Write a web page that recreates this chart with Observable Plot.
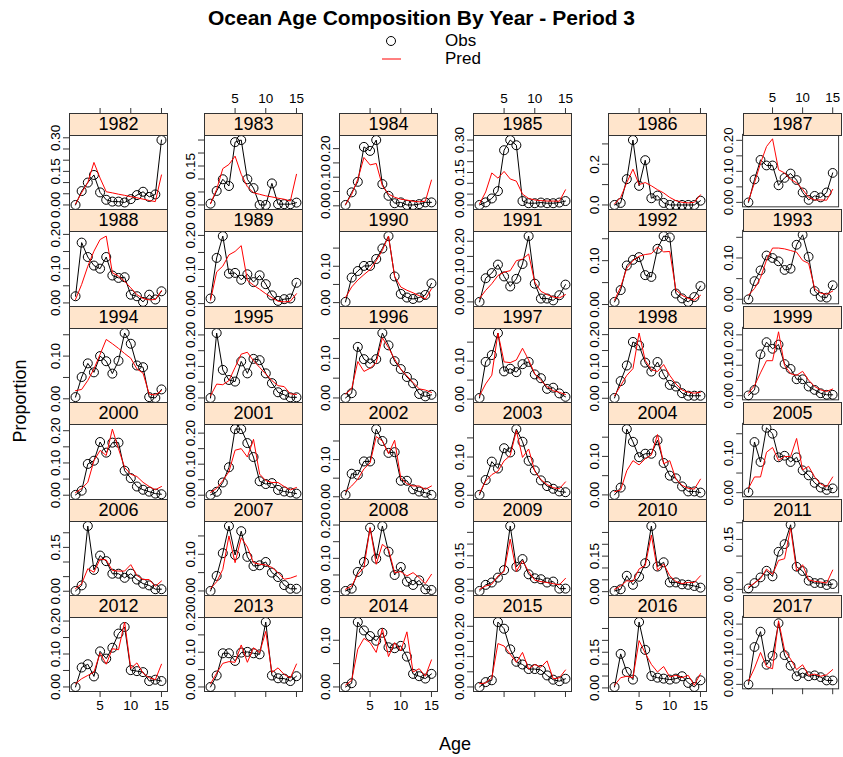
<!DOCTYPE html>
<html><head><meta charset="utf-8">
<script src="https://cdn.jsdelivr.net/npm/d3@7"></script>
<script src="https://cdn.jsdelivr.net/npm/@observablehq/plot@0.6"></script>
<style>
body{margin:0;background:#fff;font-family:"Liberation Sans",Arial,sans-serif;}
#chart{position:relative;width:843px;height:757px;overflow:hidden;background:#fff;}
.strip{position:absolute;box-sizing:border-box;border:1px solid #333;background:#FFE5CC;text-align:center;font-size:18px;line-height:20px;color:#000;}
.panel{position:absolute;}
.panel svg{overflow:visible;background:transparent;}
.txt{position:absolute;color:#000;white-space:nowrap;}
</style></head><body><div id="chart"></div>
<script>
const years = [1982,1983,1984,1985,1986,1987,1988,1989,1990,1991,1992,1993,1994,1995,1996,1997,1998,1999,2000,2001,2002,2003,2004,2005,2006,2007,2008,2009,2010,2011,2012,2013,2014,2015,2016,2017];
const ages = [1,2,3,4,5,6,7,8,9,10,11,12,13,14,15];
const xTicks = [5,10,15];

const obs = [
 [0.00,0.062,0.10,0.134,0.056,0.023,0.015,0.015,0.011,0.026,0.044,0.059,0.036,0.047,0.29],
 [0.005,0.054,0.099,0.073,0.242,0.25,0.099,0.065,0.0,0.0,0.083,0.003,0.003,0.003,0.009],
 [0.003,0.047,0.084,0.206,0.192,0.23,0.076,0.035,0.009,0.012,0.003,0.003,0.006,0.012,0.012],
 [0.0,0.012,0.03,0.064,0.253,0.30,0.276,0.018,0.008,0.008,0.011,0.008,0.008,0.011,0.018],
 [0.0,0.01,0.127,0.319,0.094,0.22,0.033,0.046,0.01,0.0,0.0,0.0,0.0,0.0,0.021],
 [0.0,0.074,0.137,0.119,0.119,0.055,0.079,0.093,0.072,0.032,0.008,0.021,0.016,0.032,0.095],
 [0.0195,0.176,0.134,0.109,0.1,0.134,0.08,0.073,0.075,0.024,0.0195,0.003,0.024,0.01,0.034],
 [0.015,0.134,0.198,0.088,0.09,0.07,0.086,0.063,0.083,0.057,0.024,0.008,0.013,0.015,0.061],
 [0.002,0.069,0.087,0.101,0.101,0.12,0.149,0.183,0.072,0.024,0.014,0.01,0.014,0.021,0.053],
 [0.0,0.078,0.095,0.123,0.084,0.051,0.076,0.125,0.217,0.06,0.011,0.011,0.005,0.022,0.057],
 [0.006,0.033,0.089,0.102,0.108,0.067,0.063,0.127,0.156,0.153,0.025,0.014,0.006,0.017,0.042],
 [0.0,0.044,0.07,0.106,0.1,0.092,0.071,0.074,0.132,0.156,0.103,0.02,0.006,0.004,0.034],
 [0.004,0.051,0.083,0.062,0.10,0.088,0.059,0.089,0.154,0.129,0.078,0.074,0.004,0.002,0.022],
 [0.0,0.206,0.089,0.057,0.052,0.116,0.078,0.124,0.12,0.078,0.047,0.018,0.01,0.002,0.002],
 [0.0,0.012,0.129,0.098,0.087,0.098,0.164,0.133,0.093,0.073,0.053,0.037,0.01,0.004,0.008],
 [0.003,0.098,0.116,0.174,0.073,0.08,0.071,0.092,0.098,0.065,0.055,0.027,0.03,0.015,0.006],
 [0.001,0.054,0.103,0.177,0.166,0.112,0.084,0.114,0.075,0.042,0.037,0.016,0.008,0.008,0.008],
 [0.001,0.019,0.136,0.176,0.154,0.168,0.104,0.088,0.054,0.054,0.03,0.019,0.008,0.003,0.003],
 [0.001,0.014,0.097,0.107,0.165,0.132,0.163,0.163,0.076,0.053,0.027,0.017,0.011,0.005,0.003],
 [0.001,0.011,0.041,0.09,0.213,0.213,0.168,0.123,0.045,0.036,0.039,0.017,0.012,0.009,0.005],
 [0.005,0.062,0.059,0.095,0.095,0.182,0.15,0.118,0.12,0.043,0.043,0.02,0.014,0.011,0.005],
 [0.001,0.04,0.088,0.07,0.123,0.112,0.173,0.14,0.09,0.065,0.039,0.024,0.017,0.01,0.008],
 [0.0,0.019,0.171,0.138,0.098,0.107,0.107,0.142,0.083,0.05,0.043,0.022,0.009,0.009,0.006],
 [0.001,0.129,0.078,0.165,0.15,0.09,0.094,0.078,0.09,0.057,0.044,0.025,0.013,0.007,0.011],
 [0.001,0.02,0.223,0.073,0.122,0.103,0.06,0.06,0.046,0.06,0.04,0.026,0.02,0.007,0.007],
 [0.0,0.041,0.103,0.177,0.098,0.163,0.093,0.068,0.07,0.079,0.05,0.038,0.016,0.006,0.006],
 [0.002,0.009,0.059,0.089,0.192,0.099,0.197,0.12,0.05,0.074,0.03,0.02,0.034,0.007,0.005],
 [0.0,0.026,0.036,0.057,0.089,0.277,0.103,0.136,0.071,0.054,0.05,0.036,0.04,0.01,0.01],
 [0.003,0.01,0.067,0.029,0.063,0.12,0.277,0.106,0.124,0.039,0.039,0.031,0.029,0.024,0.017],
 [0.003,0.019,0.036,0.056,0.039,0.113,0.136,0.194,0.068,0.055,0.026,0.019,0.019,0.013,0.016],
 [0.0,0.059,0.069,0.032,0.108,0.086,0.119,0.162,0.182,0.051,0.048,0.045,0.018,0.022,0.018],
 [0.0,0.033,0.097,0.097,0.075,0.099,0.101,0.097,0.094,0.187,0.033,0.025,0.024,0.017,0.031],
 [0.0,0.008,0.139,0.121,0.109,0.099,0.116,0.085,0.083,0.088,0.065,0.028,0.023,0.018,0.028],
 [0.0,0.016,0.022,0.214,0.192,0.124,0.083,0.074,0.059,0.059,0.056,0.038,0.024,0.019,0.027],
 [0.004,0.143,0.067,0.035,0.277,0.16,0.05,0.043,0.039,0.035,0.039,0.049,0.021,0.004,0.032],
 [0.0,0.124,0.175,0.065,0.095,0.203,0.097,0.062,0.027,0.038,0.027,0.03,0.024,0.013,0.013]
];

const pred = [
 [0.005,0.055,0.10,0.19,0.12,0.059,0.054,0.048,0.043,0.037,0.032,0.026,0.02,0.015,0.134],
 [0.005,0.06,0.14,0.156,0.188,0.118,0.07,0.047,0.041,0.035,0.031,0.026,0.022,0.015,0.118],
 [0.005,0.04,0.093,0.169,0.143,0.148,0.07,0.041,0.03,0.023,0.02,0.016,0.014,0.016,0.09],
 [0.005,0.06,0.148,0.124,0.155,0.12,0.11,0.05,0.03,0.023,0.02,0.018,0.018,0.017,0.07],
 [0.005,0.037,0.11,0.176,0.10,0.11,0.094,0.075,0.059,0.037,0.021,0.013,0.01,0.013,0.05],
 [0.005,0.063,0.126,0.18,0.205,0.105,0.095,0.074,0.063,0.042,0.016,0.008,0.008,0.007,0.042],
 [0.01,0.054,0.107,0.151,0.185,0.195,0.088,0.078,0.063,0.044,0.024,0.013,0.009,0.01,0.036],
 [0.01,0.093,0.11,0.143,0.153,0.17,0.068,0.054,0.042,0.029,0.017,0.007,0.005,0.007,0.029],
 [0.014,0.043,0.062,0.077,0.091,0.115,0.144,0.183,0.072,0.043,0.034,0.027,0.019,0.01,0.038],
 [0.011,0.038,0.06,0.087,0.098,0.103,0.136,0.141,0.158,0.065,0.035,0.024,0.016,0.013,0.024],
 [0.01,0.04,0.083,0.10,0.11,0.114,0.116,0.131,0.12,0.121,0.033,0.021,0.014,0.01,0.021],
 [0.01,0.026,0.052,0.095,0.124,0.124,0.122,0.118,0.114,0.094,0.087,0.026,0.015,0.012,0.02],
 [0.019,0.022,0.043,0.07,0.104,0.139,0.129,0.118,0.106,0.095,0.07,0.06,0.011,0.009,0.019],
 [0.007,0.044,0.042,0.055,0.097,0.139,0.145,0.118,0.097,0.076,0.055,0.039,0.036,0.013,0.011],
 [0.01,0.023,0.092,0.067,0.075,0.089,0.152,0.127,0.098,0.073,0.056,0.039,0.023,0.02,0.014],
 [0.009,0.04,0.063,0.174,0.098,0.096,0.103,0.134,0.103,0.067,0.049,0.033,0.022,0.018,0.012],
 [0.008,0.04,0.072,0.093,0.205,0.119,0.09,0.084,0.106,0.072,0.045,0.026,0.019,0.016,0.019],
 [0.008,0.033,0.075,0.115,0.115,0.21,0.099,0.072,0.067,0.08,0.051,0.03,0.019,0.014,0.022],
 [0.008,0.021,0.04,0.107,0.139,0.123,0.205,0.144,0.086,0.065,0.058,0.04,0.027,0.017,0.027],
 [0.009,0.022,0.047,0.076,0.145,0.15,0.123,0.18,0.068,0.047,0.041,0.041,0.028,0.017,0.025],
 [0.014,0.029,0.047,0.075,0.091,0.162,0.15,0.116,0.152,0.05,0.035,0.029,0.029,0.02,0.029],
 [0.006,0.037,0.054,0.063,0.09,0.104,0.169,0.099,0.121,0.063,0.041,0.028,0.02,0.017,0.035],
 [0.008,0.013,0.063,0.089,0.078,0.094,0.104,0.157,0.081,0.089,0.041,0.025,0.017,0.015,0.041],
 [0.011,0.04,0.04,0.103,0.115,0.082,0.092,0.092,0.138,0.058,0.067,0.04,0.022,0.015,0.04],
 [0.009,0.026,0.077,0.065,0.11,0.107,0.071,0.069,0.069,0.091,0.054,0.04,0.04,0.017,0.035],
 [0.007,0.025,0.059,0.15,0.077,0.145,0.12,0.077,0.073,0.071,0.064,0.05,0.032,0.035,0.041],
 [0.007,0.017,0.052,0.072,0.192,0.082,0.142,0.127,0.057,0.06,0.047,0.057,0.042,0.024,0.052],
 [0.007,0.021,0.029,0.064,0.083,0.221,0.083,0.129,0.083,0.046,0.04,0.036,0.031,0.026,0.054],
 [0.01,0.024,0.046,0.043,0.096,0.11,0.239,0.09,0.117,0.067,0.043,0.034,0.039,0.039,0.067],
 [0.007,0.019,0.032,0.061,0.045,0.087,0.092,0.184,0.055,0.074,0.029,0.024,0.022,0.019,0.058],
 [0.01,0.025,0.035,0.045,0.103,0.069,0.116,0.113,0.197,0.056,0.073,0.042,0.028,0.022,0.069],
 [0.009,0.04,0.068,0.073,0.071,0.121,0.071,0.113,0.099,0.16,0.042,0.055,0.036,0.026,0.066],
 [0.004,0.014,0.081,0.104,0.095,0.074,0.125,0.065,0.095,0.077,0.118,0.032,0.039,0.023,0.058],
 [0.011,0.013,0.03,0.143,0.135,0.108,0.081,0.114,0.059,0.074,0.065,0.086,0.027,0.03,0.056],
 [0.011,0.043,0.049,0.043,0.199,0.146,0.099,0.067,0.09,0.046,0.053,0.043,0.053,0.011,0.06],
 [0.011,0.054,0.106,0.059,0.052,0.211,0.114,0.084,0.049,0.065,0.03,0.034,0.027,0.032,0.049]
];

// y tick spacing and labelled-tick spacing for each panel
const yTickStep = [0.05,0.05,0.05,0.05,0.1,0.05, 0.05,0.05,0.05,0.05,0.05,0.05, 0.05,0.05,0.05,0.05,0.05,0.05, 0.05,0.05,0.05,0.05,0.05,0.05, 0.05,0.05,0.05,0.05,0.05,0.05, 0.05,0.05,0.05,0.05,0.05,0.05];
const yLabelStep = [0.15,0.15,0.10,0.15,0.2,0.10, 0.1,0.1,0.1,0.1,0.1,0.1, 0.1,0.1,0.1,0.1,0.1,0.1, 0.1,0.1,0.1,0.1,0.1,0.1, 0.15,0.1,0.1,0.15,0.15,0.15, 0.1,0.1,0.1,0.1,0.15,0.1];

const chart = document.getElementById("chart");
const NC = 6, NR = 6;
const col0 = 69, colPitch = 134.8, panelW = 98;
const row0 = 113, rowPitch = 96.4, stripH = 22;
const ML = 45, MR = 5, MTx = 35, MB = 30;
const pad = 0.07;

function addText(txt, style) {
  const d = document.createElement("div");
  d.className = "txt";
  d.textContent = txt;
  Object.assign(d.style, style);
  chart.appendChild(d);
  return d;
}

years.forEach((yr, i) => {
  const c = i % NC, r = Math.floor(i / NC);
  const left = Math.round(col0 + c * colPitch);
  const top = Math.round(row0 + r * rowPitch);
  const bottom = Math.round(row0 + (r + 1) * rowPitch);
  const plotH = bottom - top - stripH;
  const o = ages.map((a, k) => ({age: a, v: obs[i][k]}));
  const p = ages.map((a, k) => ({age: a, v: pred[i][k]}));
  const all = obs[i].concat(pred[i]);
  const mn = d3.min(all), mx = d3.max(all), span = mx - mn;
  const lo = mn - pad * span, hi = mx + pad * span;
  const step = yTickStep[i], lstep = yLabelStep[i];
  const yt = d3.range(0, Math.floor(hi / step + 1e-9) + 1).map(k => +(k * step).toFixed(4)).filter(v => v >= lo && v <= hi);
  const dec = step >= 0.1 ? 1 : 2;
  const fmt = v => { const q = v / lstep; return Math.abs(q - Math.round(q)) < 1e-6 ? v.toFixed(dec) : ""; };
  const marks = [
    Plot.frame({stroke: "#333", strokeWidth: 1}),
    Plot.axisY(yt, {anchor: "left", tickSize: 6, tickPadding: 4, tickRotate: -90, tickFormat: fmt, fontSize: 13.5, stroke: "#333", fill: "#000", label: null}),
    Plot.line(o, {x: "age", y: "v", stroke: "#000", strokeWidth: 1}),
    Plot.dot(o, {x: "age", y: "v", r: 4.5, stroke: "#000", fill: "none", strokeWidth: 1}),
    Plot.line(p, {x: "age", y: "v", stroke: "#FF0000", strokeWidth: 1})
  ];
  if (r === 0) {
    marks.push(Plot.axisX(xTicks, {anchor: "top", dy: -stripH, tickSize: 6, tickPadding: 5, fontSize: 13.5, stroke: "#333", fill: "#000", label: null, tickFormat: c % 2 === 1 ? (d => String(d)) : (() => "")}));
  }
  if (r === NR - 1) {
    marks.push(Plot.axisX(xTicks, {anchor: "bottom", tickSize: 6, tickPadding: 3, fontSize: 13.5, stroke: "#333", fill: "#000", label: null, tickFormat: c % 2 === 0 ? (d => String(d)) : (() => "")}));
  }
  const svg = Plot.plot({
    width: ML + panelW + MR,
    height: MTx + stripH + plotH + MB,
    marginLeft: ML, marginRight: MR, marginTop: MTx + stripH, marginBottom: MB,
    style: {background: "transparent", fontFamily: "Liberation Sans, Arial, sans-serif", fontSize: "13.5px", overflow: "visible"},
    x: {domain: [1 - pad * 14, 15 + pad * 14], axis: null},
    y: {domain: [lo, hi], axis: null},
    marks
  });
  const wrap = document.createElement("div");
  wrap.className = "panel";
  wrap.style.left = (left - ML) + "px";
  wrap.style.top = (top - MTx) + "px";
  wrap.appendChild(svg);
  chart.appendChild(wrap);
  const strip = document.createElement("div");
  strip.className = "strip";
  strip.style.left = left + "px";
  strip.style.top = top + "px";
  strip.style.width = (panelW + 1) + "px";
  strip.style.height = (stripH + 1) + "px";
  strip.textContent = String(yr);
  chart.appendChild(strip);
});

// Titles and axis labels
addText("Ocean Age Composition By Year - Period 3", {left: "0px", width: "843px", top: "5px", textAlign: "center", fontSize: "21px", fontWeight: "bold", lineHeight: "26px"});
addText("Age", {left: "355px", width: "200px", top: "733px", textAlign: "center", fontSize: "18px", lineHeight: "22px"});
addText("Proportion", {left: "-80px", width: "200px", top: "390px", textAlign: "center", fontSize: "18px", lineHeight: "22px", transform: "rotate(-90deg)"});

// Legend
const leg = document.createElementNS("http://www.w3.org/2000/svg", "svg");
leg.setAttribute("width", "40"); leg.setAttribute("height", "40");
leg.style.position = "absolute"; leg.style.left = "372px"; leg.style.top = "30px";
leg.innerHTML = '<circle cx="19" cy="11" r="4.5" fill="none" stroke="#000" stroke-width="1"/><line x1="10" x2="29" y1="29" y2="29" stroke="#FF0000" stroke-width="1"/>';
chart.appendChild(leg);
addText("Obs", {left: "445px", top: "33px", fontSize: "17px", lineHeight: "16px"});
addText("Pred", {left: "445px", top: "51px", fontSize: "17px", lineHeight: "16px"});
</script></body></html>
